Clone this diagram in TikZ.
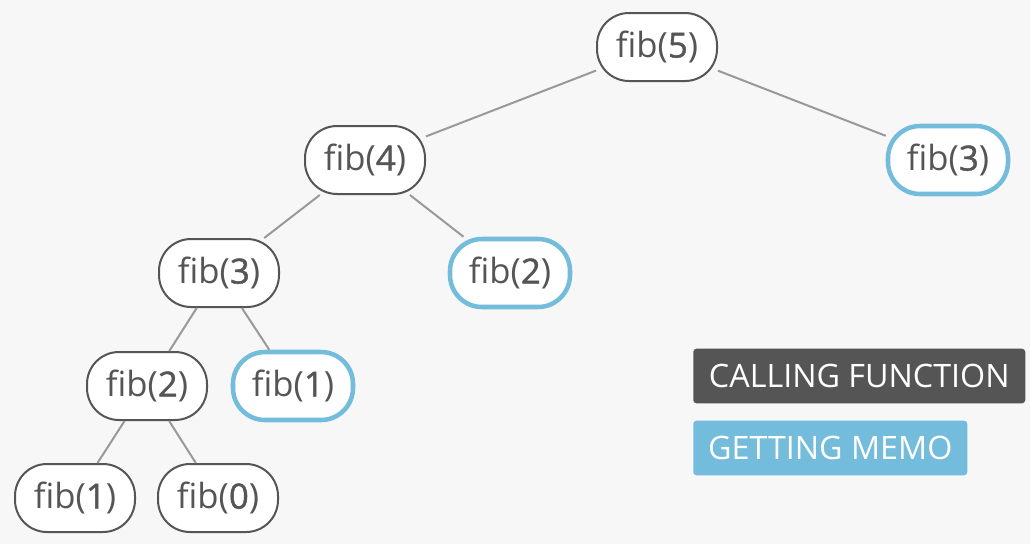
\documentclass[tikz,border=0pt]{standalone}
\usepackage{fontspec}
\setmainfont{Open Sans}
\newfontfamily\digitfont[FakeBold=1.2]{Open Sans}
\usepackage{tikz}
\usepackage{xcolor}
\definecolor{bgcol}{HTML}{F7F7F7}
\definecolor{inkcol}{HTML}{555555}
\definecolor{edgecol}{HTML}{999999}
\definecolor{memocol}{HTML}{74BCDB}
\newcommand{\fibarg}[1]{fib({\digitfont #1})}

\tikzset{
  call/.style={draw=inkcol, line width=1.5pt, fill=white, rounded corners=24pt,
    minimum width=90pt, minimum height=51pt, text=inkcol, font=\fontsize{26}{30}\selectfont},
  memo/.style={call, draw=memocol, line width=3.4pt},
  link/.style={draw=edgecol, line width=1.5pt},
  legend/.style={rounded corners=2.5pt, text=white, anchor=west, inner xsep=10.5pt,
    minimum height=41pt, font=\fontsize{24.2}{28}\selectfont}
}

\begin{document}
\begin{tikzpicture}[x=0.75pt, y=-0.75pt]
                \fill[bgcol] (0,0) rectangle (1030,544);
                \useasboundingbox (0,0) rectangle (1030,544);
                % the call tree
                \node[call] (f5) at (657,47) {\fibarg{5}};
                \node[call] (f4) at (365,160) {\fibarg{4}};
                \node[memo] (f3r) at (948,160) {\fibarg{3}};
                \node[call] (f3) at (219,273) {\fibarg{3}};
                \node[memo] (f2r) at (510,273) {\fibarg{2}};
                \node[call] (f2) at (147,386) {\fibarg{2}};
                \node[memo] (f1r) at (293,386) {\fibarg{1}};
                \node[call] (f1) at (75,498) {\fibarg{1}};
                \node[call] (f0) at (218,498) {\fibarg{0}};
                \draw[link] (f5) -- (f4);
                \draw[link] (f5) -- (f3r);
                \draw[link] (f4) -- (f3);
                \draw[link] (f4) -- (f2r);
                \draw[link] (f3) -- (f2);
                \draw[link] (f3) -- (f1r);
                \draw[link] (f2) -- (f1);
                \draw[link] (f2) -- (f0);
                % legend
                \node[legend, fill=inkcol, minimum width=249pt] (callkey) at (693,376) {CALLING FUNCTION};
                \node[legend, fill=memocol, minimum width=205.5pt] (memokey) at (693,448) {GETTING MEMO};
            \end{tikzpicture}
\end{document}
